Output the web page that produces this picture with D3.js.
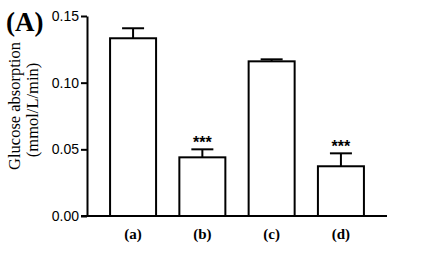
<!DOCTYPE html>
<html>
<head>
<meta charset="utf-8">
<script src="https://cdn.jsdelivr.net/npm/d3@7"></script>
<style>
  body { margin: 0; background: #fff; }
</style>
</head>
<body>
<div id="chart"></div>
<script>
const groups = ["(a)", "(b)", "(c)", "(d)"];
const means = [0.1333, 0.0440, 0.1160, 0.0373];
const errors = [0.0075, 0.0060, 0.0015, 0.0097];
const marks = ["", "***", "", "***"];
const yTicks = [0, 0.05, 0.10, 0.15];

const width = 431, height = 261;
const margin = { top: 16, right: 44, bottom: 45, left: 87 };
const innerW = width - margin.left - margin.right;
const innerH = height - margin.top - margin.bottom;
const serif = "'Liberation Serif', 'Times New Roman', serif";
const sans = "'Liberation Sans', Arial, sans-serif";

const svg = d3.select("#chart").append("svg")
  .attr("width", width)
  .attr("height", height);

const root = svg.append("g").attr("transform", `translate(${margin.left}, ${margin.top})`);

const x = d3.scaleBand().domain(groups).range([0, innerW]).paddingInner(0.336).paddingOuter(0.333);
const y = d3.scaleLinear().domain([0, 0.15]).range([innerH, 0]);

// bars
root.selectAll("rect.bar")
  .data(groups)
  .enter()
  .append("rect")
  .attr("class", "bar")
  .attr("x", (d) => x(d))
  .attr("y", (d, i) => y(means[i]))
  .attr("width", x.bandwidth())
  .attr("height", (d, i) => innerH - y(means[i]))
  .attr("fill", "#fff")
  .attr("stroke", "#000")
  .attr("stroke-width", 2);

// error bars (upper only)
const capW = 22;
groups.forEach((g, i) => {
  const cx = x(g) + x.bandwidth() / 2;
  const top = y(means[i] + errors[i]);
  root.append("line")
    .attr("x1", cx).attr("x2", cx)
    .attr("y1", y(means[i])).attr("y2", top)
    .attr("stroke", "#000").attr("stroke-width", 2);
  root.append("line")
    .attr("x1", cx - capW / 2).attr("x2", cx + capW / 2)
    .attr("y1", top).attr("y2", top)
    .attr("stroke", "#000").attr("stroke-width", 2);
  if (marks[i]) {
    root.append("text")
      .attr("x", cx)
      .attr("y", top - 1)
      .attr("text-anchor", "middle")
      .attr("font-family", sans)
      .attr("font-weight", "bold")
      .attr("font-size", "16px")
      .attr("fill", "#000")
      .text(marks[i]);
  }
});

// y axis
root.append("g")
  .call(d3.axisLeft(y).tickValues(yTicks).tickFormat(d3.format(".2f")).tickSize(6).tickSizeOuter(0))
  .call((g) => g.selectAll(".domain").attr("stroke", "#000").attr("stroke-width", 2))
  .call((g) => g.selectAll("line").attr("stroke", "#000").attr("stroke-width", 2))
  .call((g) => g.selectAll("text").attr("fill", "#000").attr("font-size", "14px")
    .attr("font-family", sans).attr("x", -8));

// x axis
root.append("g")
  .attr("transform", `translate(0, ${innerH})`)
  .call(d3.axisBottom(x).tickSize(0).tickSizeOuter(0))
  .call((g) => g.select(".domain").attr("stroke", "#000").attr("stroke-width", 2)
    .attr("d", `M-6,0H${innerW}`))
  .call((g) => g.selectAll("text").attr("fill", "#000").attr("font-size", "15px")
    .attr("font-weight", "bold")
    .attr("font-family", serif).attr("dy", "1.3em"));

// y axis label
const yLab = svg.append("text")
  .attr("transform", "translate(20, 106) rotate(-90)")
  .attr("text-anchor", "middle")
  .attr("font-family", serif)
  .attr("font-size", "16.5px")
  .attr("fill", "#000");
yLab.append("tspan").attr("x", 0).attr("dy", 0).text("Glucose absorption");
yLab.append("tspan").attr("x", -4).attr("dy", 18).text("(mmol/L/min)");

// panel label
svg.append("text")
  .attr("x", 6)
  .attr("y", 31)
  .attr("font-family", serif)
  .attr("font-weight", "bold")
  .attr("font-size", "27px")
  .attr("fill", "#000")
  .text("(A)");
</script>
</body>
</html>
